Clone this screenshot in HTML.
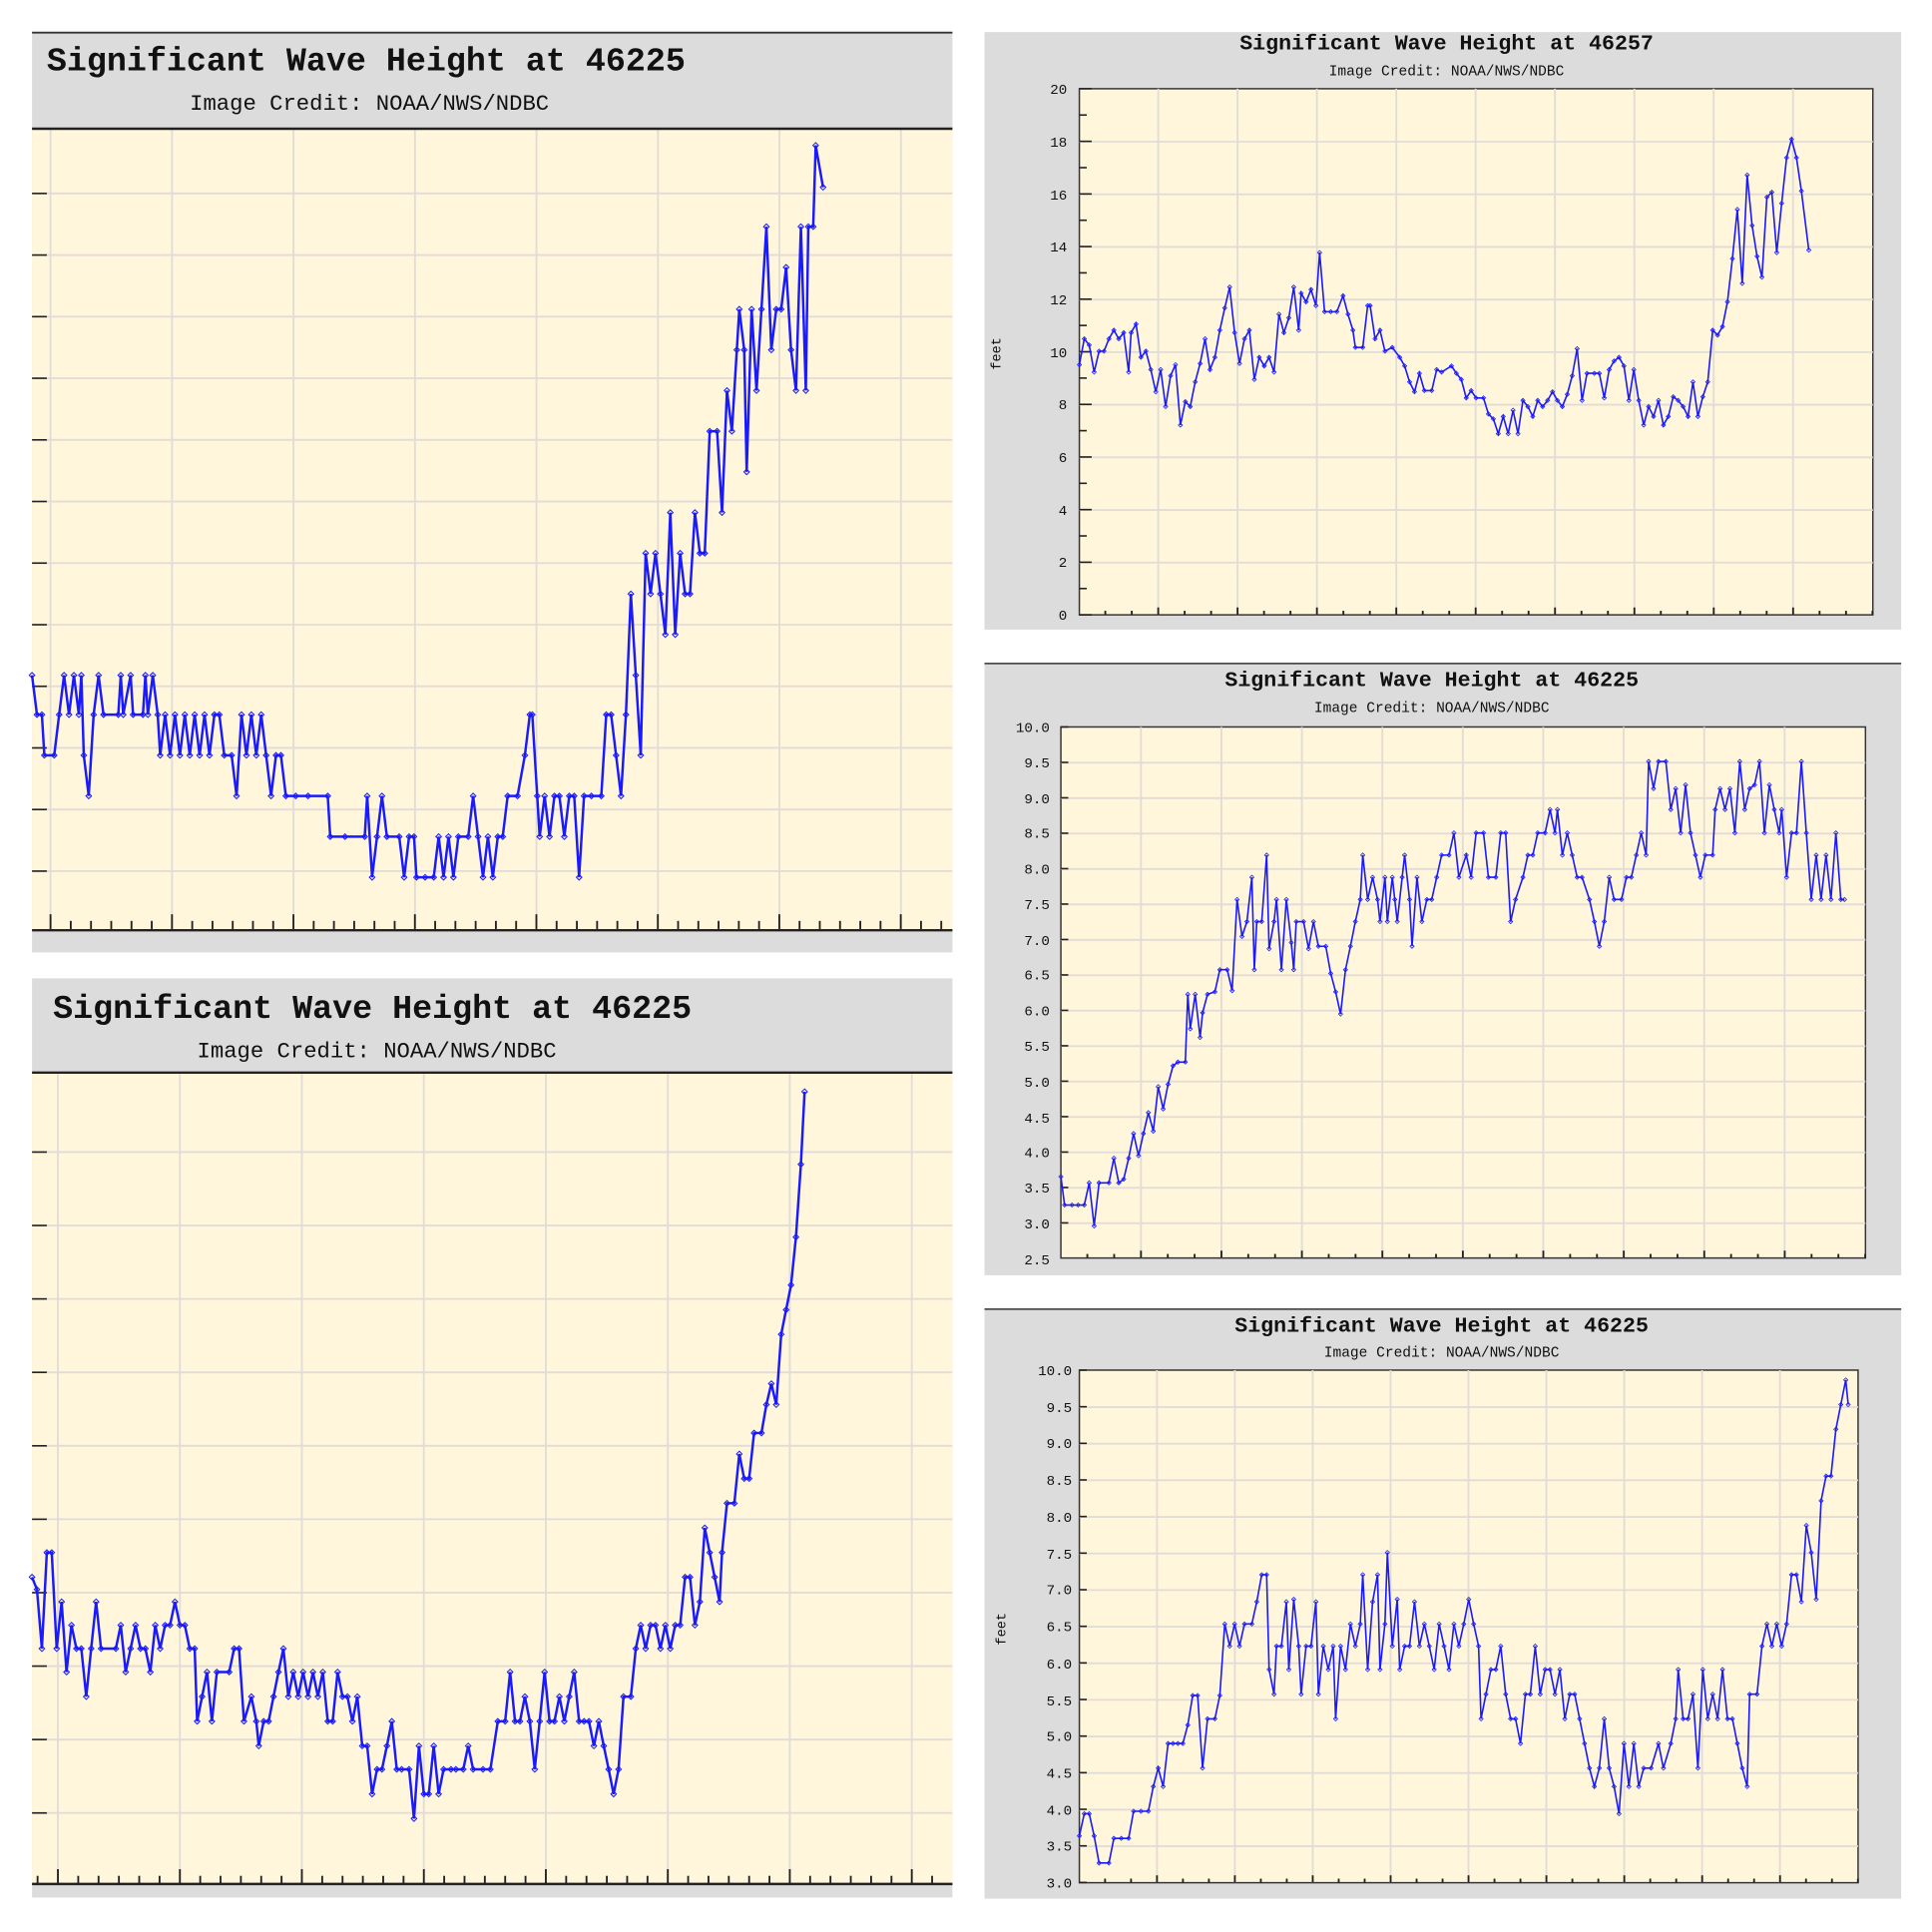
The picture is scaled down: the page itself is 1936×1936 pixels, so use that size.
<!DOCTYPE html>
<html><head><meta charset="utf-8"><style>html,body{margin:0;padding:0;background:#fff}svg{display:block}</style></head>
<body>
<svg id="s" xmlns="http://www.w3.org/2000/svg" width="1936" height="1936" viewBox="0 0 1568 1568">
<defs>
<marker id="m" viewBox="-4 -4 8 8" markerWidth="6" markerHeight="6" refX="0" refY="0" markerUnits="userSpaceOnUse"><path d="M0,-3L3,0L0,3L-3,0Z" fill="none" stroke="#1a1aff" stroke-width="1.1"/></marker>
<marker id="m2" viewBox="-4 -4 8 8" markerWidth="4.5" markerHeight="4.5" refX="0" refY="0" markerUnits="userSpaceOnUse"><path d="M0,-3L3,0L0,3L-3,0Z" fill="none" stroke="#1a1aff" stroke-width="1.1"/></marker>
</defs>
<!-- Panel A -->
<rect x="26" y="26" width="747" height="747" fill="#dcdcdc"/>
<rect x="26" y="105" width="747" height="649" fill="#fff6dc"/>
<g id="gA"></g>
<line x1="26" y1="26.5" x2="773" y2="26.5" stroke="#333" stroke-width="1.5"/>
<line x1="26" y1="104.5" x2="773" y2="104.5" stroke="#222" stroke-width="2"/>
<line x1="26" y1="755" x2="773" y2="755" stroke="#222" stroke-width="2"/>
<text x="38" y="57" font-family="Liberation Mono, monospace" font-weight="bold" font-size="27" fill="#111">Significant Wave Height at 46225</text>
<text x="154" y="89" font-family="Liberation Mono, monospace" font-size="18" fill="#111">Image Credit: NOAA/NWS/NDBC</text>
<!-- Panel B -->
<rect x="26" y="794" width="747" height="746" fill="#dcdcdc"/>
<rect x="26" y="871" width="747" height="658" fill="#fff6dc"/>
<g id="gB"></g>
<line x1="26" y1="870.5" x2="773" y2="870.5" stroke="#222" stroke-width="2"/>
<line x1="26" y1="1529" x2="773" y2="1529" stroke="#222" stroke-width="2"/>
<text x="43" y="826" font-family="Liberation Mono, monospace" font-weight="bold" font-size="27" fill="#111">Significant Wave Height at 46225</text>
<text x="160" y="858" font-family="Liberation Mono, monospace" font-size="18" fill="#111">Image Credit: NOAA/NWS/NDBC</text>
<!-- Panel C -->
<rect x="799" y="26" width="744" height="485" fill="#dcdcdc"/>
<rect x="876" y="72" width="644" height="427" fill="#fff6dc" stroke="#333" stroke-width="1.2"/>
<g id="gC"></g>
<text x="1174" y="40" text-anchor="middle" font-family="Liberation Mono, monospace" font-weight="bold" font-size="17.5" fill="#111">Significant Wave Height at 46257</text>
<text x="1174" y="61" text-anchor="middle" font-family="Liberation Mono, monospace" font-size="11.8" fill="#111">Image Credit: NOAA/NWS/NDBC</text>
<text x="812" y="287" transform="rotate(-90 812 287)" text-anchor="middle" font-family="Liberation Mono, monospace" font-size="11" fill="#111">feet</text>
<!-- Panel D -->
<rect x="799" y="538" width="744" height="497" fill="#dcdcdc"/>
<line x1="799" y1="538.5" x2="1543" y2="538.5" stroke="#333" stroke-width="1.2"/>
<rect x="861" y="590" width="653" height="431" fill="#fff6dc" stroke="#333" stroke-width="1.2"/>
<g id="gD"></g>
<text x="1162" y="557" text-anchor="middle" font-family="Liberation Mono, monospace" font-weight="bold" font-size="17.5" fill="#111">Significant Wave Height at 46225</text>
<text x="1162" y="578" text-anchor="middle" font-family="Liberation Mono, monospace" font-size="11.8" fill="#111">Image Credit: NOAA/NWS/NDBC</text>
<!-- Panel E -->
<rect x="799" y="1062" width="744" height="479" fill="#dcdcdc"/>
<line x1="799" y1="1062.5" x2="1543" y2="1062.5" stroke="#333" stroke-width="1.2"/>
<rect x="876" y="1112" width="632" height="416" fill="#fff6dc" stroke="#333" stroke-width="1.2"/>
<g id="gE"></g>
<text x="1170" y="1081" text-anchor="middle" font-family="Liberation Mono, monospace" font-weight="bold" font-size="17.5" fill="#111">Significant Wave Height at 46225</text>
<text x="1170" y="1101" text-anchor="middle" font-family="Liberation Mono, monospace" font-size="11.8" fill="#111">Image Credit: NOAA/NWS/NDBC</text>
<text x="816" y="1322" transform="rotate(-90 816 1322)" text-anchor="middle" font-family="Liberation Mono, monospace" font-size="11" fill="#111">feet</text>
<g id="labels" font-family="Liberation Mono, monospace" font-size="11.5" fill="#111" text-anchor="end">
<text x="866" y="76">20</text><text x="866" y="119">18</text><text x="866" y="162">16</text><text x="866" y="204">14</text><text x="866" y="247">12</text><text x="866" y="290">10</text><text x="866" y="332">8</text><text x="866" y="375">6</text><text x="866" y="418">4</text><text x="866" y="460">2</text><text x="866" y="503">0</text>
<text x="852" y="594">10.0</text><text x="852" y="623">9.5</text><text x="852" y="652">9.0</text><text x="852" y="680">8.5</text><text x="852" y="709">8.0</text><text x="852" y="738">7.5</text><text x="852" y="767">7.0</text><text x="852" y="795">6.5</text><text x="852" y="824">6.0</text><text x="852" y="853">5.5</text><text x="852" y="882">5.0</text><text x="852" y="911">4.5</text><text x="852" y="939">4.0</text><text x="852" y="968">3.5</text><text x="852" y="997">3.0</text><text x="852" y="1026">2.5</text>
<text x="870" y="1116">10.0</text><text x="870" y="1146">9.5</text><text x="870" y="1175">9.0</text><text x="870" y="1205">8.5</text><text x="870" y="1235">8.0</text><text x="870" y="1265">7.5</text><text x="870" y="1294">7.0</text><text x="870" y="1324">6.5</text><text x="870" y="1354">6.0</text><text x="870" y="1384">5.5</text><text x="870" y="1413">5.0</text><text x="870" y="1443">4.5</text><text x="870" y="1473">4.0</text><text x="870" y="1502">3.5</text><text x="870" y="1532">3.0</text>
</g>
</svg>
<script>
var NS="http://www.w3.org/2000/svg";
function el(g,t,a){var e=document.createElementNS(NS,t);for(var k in a)e.setAttribute(k,a[k]);g.appendChild(e);return e;}
var GC="#e2dcd6";
function panel(id,x0,x1,y0,y1,vx,hy,minorStep,axisY,tickUp,leftTicks,pts,mk,sw){
 var g=document.getElementById(id);
 vx.forEach(function(x){el(g,"line",{x1:x,y1:y0,x2:x,y2:y1,stroke:GC,"stroke-width":1.5});});
 hy.forEach(function(y){el(g,"line",{x1:x0,y1:y,x2:x1,y2:y,stroke:GC,"stroke-width":1.5});});
 var st=vx[0]; while(st-minorStep>x0) st-=minorStep;
 for(var x=st;x<x1;x+=minorStep){
   var major=vx.some(function(v){return Math.abs(v-x)<minorStep/3;});
   el(g,"line",{x1:x,y1:axisY,x2:x,y2:axisY-(major?tickUp:tickUp*0.55),stroke:"#222","stroke-width":1.5});
 }
 if(leftTicks){ leftTicks.forEach(function(t){el(g,"line",{x1:x0,y1:t[0],x2:x0+t[1],y2:t[0],stroke:"#222","stroke-width":1.3});}); }
 var d=pts.map(function(p,i){return (i?"L":"M")+p[0]+","+p[1];}).join("");
 el(g,"path",{d:d,fill:"none",stroke:"#1a1aff","stroke-width":sw,"marker-start":"url(#"+mk+")","marker-mid":"url(#"+mk+")","marker-end":"url(#"+mk+")"});
}
function rng(a,b,s){var r=[];for(var v=a;v<=b+0.01;v+=s)r.push(v);return r;}
var A=[[26,548],[30,580],[34,580],[36,613],[44,613],[48,580],[52,548],[56,580],[60,548],[64,580],[66,548],[68,613],[72,646],[76,580],[80,548],[84,580],[96,580],[98,548],[100,580],[106,548],[108,580],[116,580],[118,548],[120,580],[124,548],[128,580],[130,613],[134,580],[138,613],[142,580],[146,613],[150,580],[154,613],[158,580],[162,613],[166,580],[170,613],[174,580],[178,580],[182,613],[188,613],[192,646],[196,580],[200,613],[204,580],[208,613],[212,580],[216,613],[220,646],[224,613],[228,613],[232,646],[240,646],[250,646],[266,646],[268,679],[280,679],[296,679],[298,646],[302,712],[306,679],[310,646],[314,679],[324,679],[328,712],[332,679],[336,679],[338,712],[345,712],[352,712],[356,679],[360,712],[364,679],[368,712],[372,679],[380,679],[384,646],[388,679],[392,712],[396,679],[400,712],[404,679],[408,679],[412,646],[420,646],[426,613],[430,580],[432,580],[436,646],[438,679],[442,646],[446,679],[450,646],[454,646],[458,679],[462,646],[466,646],[470,712],[474,646],[480,646],[488,646],[492,580],[496,580],[500,613],[504,646],[508,580],[512,482],[516,548],[520,613],[524,449],[528,482],[532,449],[536,482],[540,515],[544,416],[548,515],[552,449],[556,482],[560,482],[564,416],[568,449],[572,449],[576,350],[582,350],[586,416],[590,317],[594,350],[598,284],[600,251],[604,284],[606,383],[610,251],[614,317],[618,251],[622,184],[626,284],[630,251],[634,251],[638,217],[642,284],[646,317],[650,184],[654,317],[656,184],[660,184],[662,118],[668,152]];
var B=[[26,1280],[30,1290],[34,1338],[38,1260],[42,1260],[46,1338],[50,1300],[54,1357],[58,1319],[62,1338],[66,1338],[70,1377],[74,1338],[78,1300],[82,1338],[94,1338],[98,1319],[102,1357],[106,1338],[110,1319],[114,1338],[118,1338],[122,1357],[126,1319],[130,1338],[134,1319],[138,1319],[142,1300],[146,1319],[150,1319],[154,1338],[158,1338],[160,1397],[164,1377],[168,1357],[172,1397],[176,1357],[186,1357],[190,1338],[194,1338],[198,1397],[204,1377],[208,1397],[210,1417],[214,1397],[218,1397],[222,1377],[226,1357],[230,1338],[234,1377],[238,1357],[242,1377],[246,1357],[250,1377],[254,1357],[258,1377],[262,1357],[266,1397],[270,1397],[274,1357],[278,1377],[282,1377],[286,1397],[290,1377],[294,1417],[298,1417],[302,1456],[306,1436],[310,1436],[314,1417],[318,1397],[322,1436],[326,1436],[332,1436],[336,1476],[340,1417],[344,1456],[348,1456],[352,1417],[356,1456],[360,1436],[366,1436],[370,1436],[376,1436],[380,1417],[384,1436],[392,1436],[398,1436],[404,1397],[410,1397],[414,1357],[418,1397],[422,1397],[426,1377],[430,1397],[434,1436],[438,1397],[442,1357],[446,1397],[450,1397],[454,1377],[458,1397],[462,1377],[466,1357],[470,1397],[474,1397],[478,1397],[482,1417],[486,1397],[490,1417],[494,1436],[498,1456],[502,1436],[506,1377],[512,1377],[516,1338],[520,1319],[524,1338],[528,1319],[532,1319],[536,1338],[540,1319],[544,1338],[548,1319],[552,1319],[556,1280],[560,1280],[564,1319],[568,1300],[572,1240],[576,1260],[580,1280],[584,1300],[586,1260],[590,1220],[596,1220],[600,1180],[604,1200],[608,1200],[612,1163],[618,1163],[622,1140],[626,1123],[630,1140],[634,1083],[638,1063],[642,1043],[646,1004],[650,945],[653,886]];
var C=[[876,296],[880,275],[884,280],[888,302],[892,285],[896,285],[900,275],[904,268],[908,275],[912,270],[916,302],[918,270],[922,263],[926,290],[930,285],[934,300],[938,318],[942,300],[946,330],[950,305],[954,296],[958,345],[962,326],[966,330],[970,310],[974,295],[978,275],[982,300],[986,290],[990,268],[994,250],[998,233],[1002,270],[1006,295],[1010,275],[1014,268],[1018,308],[1022,290],[1026,297],[1030,290],[1034,302],[1038,255],[1042,270],[1046,258],[1050,233],[1054,268],[1056,238],[1060,245],[1064,235],[1068,248],[1071,205],[1075,253],[1080,253],[1085,253],[1090,240],[1094,255],[1098,268],[1100,282],[1106,282],[1110,248],[1112,248],[1116,275],[1120,268],[1124,285],[1130,282],[1136,290],[1140,297],[1144,310],[1148,318],[1152,303],[1156,317],[1162,317],[1166,300],[1170,302],[1178,297],[1182,303],[1186,308],[1190,323],[1194,317],[1198,323],[1204,323],[1208,336],[1212,340],[1216,352],[1220,338],[1224,352],[1228,333],[1232,352],[1236,325],[1240,330],[1244,338],[1248,325],[1252,330],[1256,325],[1260,318],[1264,325],[1268,330],[1272,320],[1276,305],[1280,283],[1284,325],[1288,303],[1294,303],[1298,303],[1302,323],[1306,300],[1310,293],[1314,290],[1318,297],[1322,325],[1326,300],[1330,325],[1334,345],[1338,330],[1342,338],[1346,325],[1350,345],[1354,338],[1358,322],[1362,325],[1366,330],[1370,338],[1374,310],[1378,338],[1382,322],[1386,310],[1390,268],[1394,272],[1398,265],[1402,245],[1406,210],[1410,170],[1414,230],[1418,142],[1422,183],[1426,208],[1430,225],[1434,160],[1438,156],[1442,205],[1446,165],[1450,128],[1454,113],[1458,128],[1462,155],[1468,203]];
var D=[[861,955],[864,978],[870,978],[875,978],[880,978],[884,960],[888,995],[892,960],[900,960],[904,940],[908,960],[912,957],[916,940],[920,920],[924,938],[928,920],[932,903],[936,918],[940,882],[944,900],[948,880],[952,865],[956,862],[962,862],[964,807],[966,835],[970,807],[974,842],[976,822],[980,807],[986,805],[990,787],[996,787],[1000,804],[1004,730],[1008,760],[1012,748],[1016,712],[1018,787],[1020,748],[1024,748],[1028,694],[1030,770],[1034,748],[1036,730],[1040,787],[1044,730],[1048,765],[1050,787],[1052,748],[1058,748],[1062,770],[1066,748],[1070,768],[1076,768],[1080,790],[1084,805],[1088,823],[1092,787],[1096,768],[1100,748],[1104,730],[1106,694],[1110,730],[1114,712],[1118,730],[1120,748],[1124,712],[1126,748],[1130,712],[1132,730],[1134,748],[1138,712],[1140,694],[1144,730],[1146,768],[1150,712],[1154,748],[1158,730],[1162,730],[1166,712],[1170,694],[1176,694],[1180,676],[1184,712],[1190,694],[1194,712],[1198,676],[1204,676],[1208,712],[1214,712],[1218,676],[1222,676],[1226,748],[1230,730],[1236,712],[1240,694],[1244,694],[1248,676],[1254,676],[1258,657],[1262,676],[1264,657],[1268,694],[1272,676],[1276,694],[1280,712],[1284,712],[1290,730],[1294,748],[1298,768],[1302,748],[1306,712],[1310,730],[1316,730],[1320,712],[1324,712],[1328,694],[1332,676],[1336,694],[1338,618],[1342,640],[1346,618],[1352,618],[1356,657],[1360,640],[1364,676],[1368,637],[1372,676],[1376,694],[1380,712],[1384,694],[1390,694],[1392,657],[1396,640],[1400,657],[1404,640],[1408,676],[1412,618],[1416,657],[1420,640],[1424,637],[1428,618],[1432,676],[1436,637],[1440,657],[1444,676],[1446,657],[1450,712],[1454,676],[1458,676],[1462,618],[1466,676],[1470,730],[1474,694],[1478,730],[1482,694],[1486,730],[1490,676],[1494,730],[1497,730]];
var E=[[876,1490],[880,1472],[884,1472],[888,1490],[892,1512],[900,1512],[904,1492],[910,1492],[916,1492],[920,1470],[926,1470],[932,1470],[936,1450],[940,1435],[944,1450],[948,1415],[952,1415],[956,1415],[960,1415],[964,1400],[968,1376],[972,1376],[976,1435],[980,1395],[986,1395],[990,1376],[994,1318],[998,1336],[1002,1318],[1006,1336],[1010,1318],[1016,1318],[1020,1300],[1024,1278],[1028,1278],[1030,1355],[1034,1375],[1036,1336],[1040,1336],[1044,1300],[1046,1355],[1050,1298],[1054,1336],[1056,1375],[1060,1336],[1064,1336],[1068,1300],[1070,1375],[1074,1336],[1078,1355],[1082,1336],[1084,1395],[1088,1336],[1092,1355],[1096,1318],[1100,1336],[1104,1318],[1106,1278],[1110,1355],[1114,1300],[1118,1278],[1120,1355],[1124,1318],[1126,1260],[1130,1336],[1134,1298],[1136,1355],[1140,1336],[1144,1336],[1148,1300],[1152,1336],[1156,1318],[1160,1336],[1164,1355],[1168,1318],[1172,1336],[1176,1355],[1180,1318],[1184,1336],[1188,1318],[1192,1298],[1196,1318],[1200,1336],[1202,1395],[1206,1375],[1210,1355],[1214,1355],[1218,1336],[1222,1375],[1226,1395],[1230,1395],[1234,1415],[1238,1375],[1242,1375],[1246,1336],[1250,1375],[1254,1355],[1258,1355],[1262,1375],[1266,1355],[1270,1395],[1274,1375],[1278,1375],[1282,1395],[1286,1415],[1290,1435],[1294,1450],[1298,1435],[1302,1395],[1306,1435],[1310,1450],[1314,1472],[1318,1415],[1322,1450],[1326,1415],[1330,1450],[1334,1435],[1340,1435],[1346,1415],[1350,1435],[1356,1415],[1360,1395],[1362,1355],[1366,1395],[1370,1395],[1374,1375],[1378,1435],[1382,1355],[1386,1395],[1390,1375],[1394,1395],[1398,1355],[1402,1395],[1406,1395],[1410,1415],[1414,1435],[1418,1450],[1420,1375],[1426,1375],[1430,1336],[1434,1318],[1438,1336],[1442,1318],[1446,1336],[1450,1318],[1454,1278],[1458,1278],[1462,1300],[1466,1238],[1470,1260],[1474,1298],[1478,1218],[1482,1198],[1486,1198],[1490,1160],[1494,1140],[1498,1120],[1500,1140]];
panel("gA",26,773,105,754,rng(41,740,98.6),rng(157,710,50),16.43,754,12,rng(157,710,50).map(function(y){return [y,12];}),A,"m",2);
panel("gB",26,773,871,1529,rng(47,745,99),rng(935,1475,59.6),16.5,1529,12,rng(935,1475,59.6).map(function(y){return [y,12];}),B,"m",2);
var cy=rng(72,499,21.35);
panel("gC",876,1520,72,499,rng(940,1460,64.4),rng(115,480,42.7),21.47,499,6,cy.map(function(y,i){return [y,i%2?6:10];}),C,"m2",1.3);
panel("gD",861,1514,590,1021,rng(926,1460,65.3),rng(619,1000,28.75),21.77,1021,6,rng(590,1021,28.75).map(function(y){return [y,6];}),D,"m2",1.3);
panel("gE",876,1508,1112,1528,rng(939,1460,63.2),rng(1142,1510,29.7),21.07,1528,6,rng(1112,1528,29.7).map(function(y){return [y,6];}),E,"m2",1.3);
</script>
</body></html>
